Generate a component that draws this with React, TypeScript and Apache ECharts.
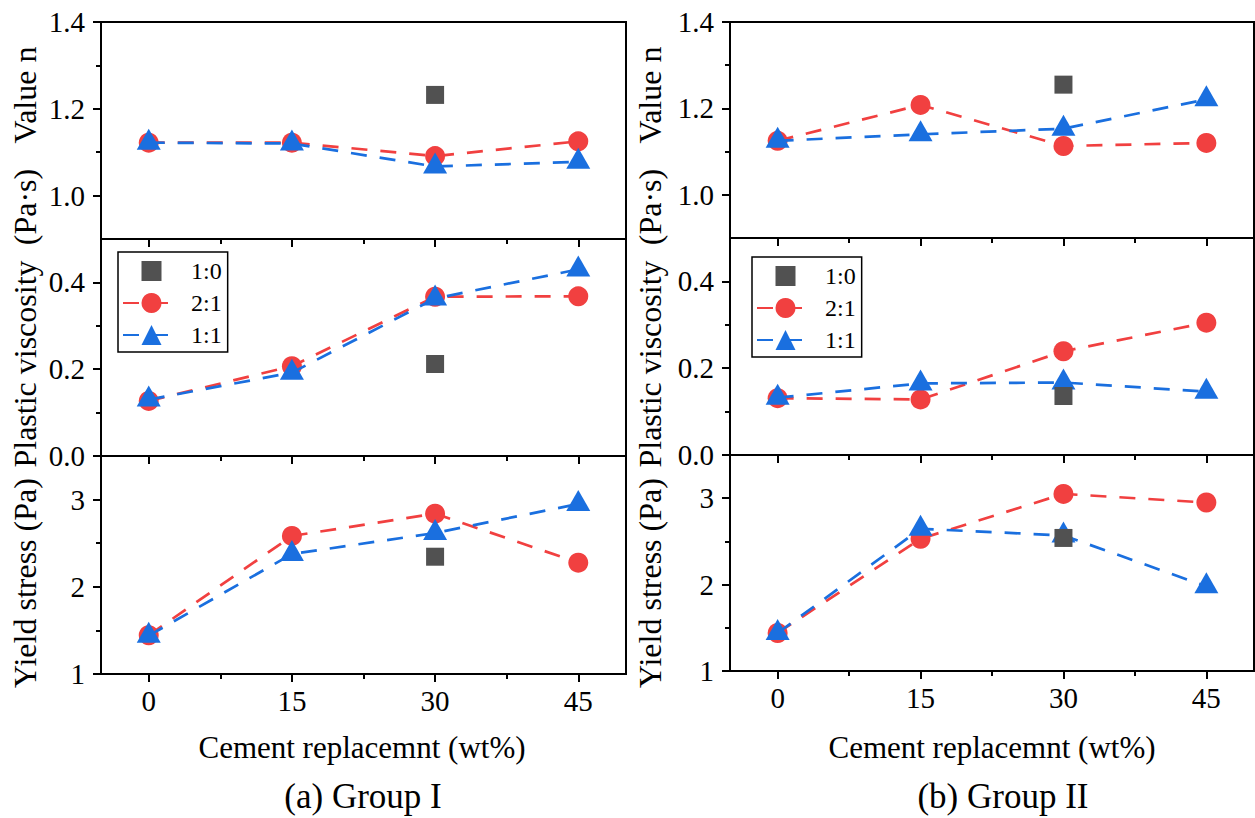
import React, { useEffect, useRef } from "react";
import * as echarts from "echarts";

// ---------- data ----------
const xValues = [0, 15, 30, 45];
const xMajorTicks = [0, 15, 30, 45];
const xMinorTicks = [7.5, 22.5, 37.5];
const seriesNames = ["1:0", "2:1", "1:1"];

// Group I
const g1N_10 = [null, null, 1.232, null];
const g1N_21 = [1.122, 1.122, 1.091, 1.125];
const g1N_11 = [1.122, 1.12, 1.067, 1.078];
const g1PV_10 = [null, null, 0.212, null];
const g1PV_21 = [0.127, 0.207, 0.367, 0.368];
const g1PV_11 = [0.13, 0.192, 0.363, 0.43];
const g1YS_10 = [null, null, 2.345, null];
const g1YS_21 = [1.444, 2.583, 2.839, 2.277];
const g1YS_11 = [1.44, 2.376, 2.617, 2.95];

// Group II
const g2N_10 = [null, null, 1.255, null];
const g2N_21 = [1.125, 1.208, 1.113, 1.12];
const g2N_11 = [1.125, 1.14, 1.153, 1.221];
const g2PV_10 = [null, null, 0.136, null];
const g2PV_21 = [0.131, 0.128, 0.239, 0.305];
const g2PV_11 = [0.132, 0.165, 0.167, 0.146];
const g2YS_10 = [null, null, 2.54, null];
const g2YS_21 = [1.44, 2.53, 3.05, 2.95];
const g2YS_11 = [1.44, 2.646, 2.569, 1.98];

// y-axis ticks
const nMajor = [1.0, 1.2, 1.4];
const nMinor = [1.1, 1.3];
const pvMajor = [0.0, 0.2, 0.4];
const pvMinor = [0.1, 0.3];
const ysMajor = [1, 2, 3];
const ysMinor = [1.5, 2.5];

const yTitles = ["Value n", "Plastic viscosity", "Yield stress (Pa)"];
const yUnitPV = "(Pa·s)";
const xTitle = "Cement replacemnt (wt%)";
const groupTitles = ["(a) Group I", "(b) Group II"];

// ---------- styles ----------
const FONT = "'Liberation Serif', 'Times New Roman', serif";
const RED = "#F14040";
const BLUE = "#1A6FDF";
const GRAY = "#515151";

const panels = [
  { min: 0.9, max: 1.4, major: nMajor, minor: nMinor, dec: 1 },
  { min: 0, max: 0.5, major: pvMajor, minor: pvMinor, dec: 1 },
  { min: 1, max: 3.5, major: ysMajor, minor: ysMinor, dec: 0 },
];

const columnData = [
  [
    [g1N_10, g1N_21, g1N_11],
    [g1PV_10, g1PV_21, g1PV_11],
    [g1YS_10, g1YS_21, g1YS_11],
  ],
  [
    [g2N_10, g2N_21, g2N_11],
    [g2PV_10, g2PV_21, g2PV_11],
    [g2YS_10, g2YS_21, g2YS_11],
  ],
];

const colLayout = [
  { left: 101, width: 525, rows: [[22, 217], [239, 217], [456, 218]], center: 362, legend: [118, 252], titleX: 25, groupX: 363 },
  { left: 730, width: 524, rows: [[22, 216], [238, 217], [455, 216]], center: 992, legend: [752, 257], titleX: 650, groupX: 1003 },
];

function buildOption() {
  const grid: any[] = [];
  const xAxis: any[] = [];
  const yAxis: any[] = [];
  const series: any[] = [];
  const graphic: any[] = [];

  colLayout.forEach((col, c) => {
    col.rows.forEach(([top, height], r) => {
      const g = c * 3 + r;
      const p = panels[r];
      grid.push({
        left: col.left,
        top,
        width: col.width,
        height,
        show: true,
        borderColor: "#000",
        borderWidth: 2,
        backgroundColor: "transparent",
      });
      const isBottom = r === 2;
      xAxis.push({
        gridIndex: g,
        type: "value",
        min: -5,
        max: 50,
        position: "bottom",
        axisLine: { show: true, onZero: false, lineStyle: { color: "#000", width: 2 } },
        axisTick: { show: true, customValues: xMajorTicks, length: 8, lineStyle: { color: "#000", width: 2 } },
        axisLabel: {
          show: isBottom,
          customValues: xMajorTicks,
          fontSize: 29,
          fontFamily: FONT,
          color: "#000",
          margin: 12,
        },
        splitLine: { show: false },
      });
      xAxis.push({
        gridIndex: g,
        type: "value",
        min: -5,
        max: 50,
        position: "bottom",
        axisLine: { show: false, onZero: false },
        axisTick: { show: true, customValues: xMinorTicks, length: 5, lineStyle: { color: "#000", width: 2 } },
        axisLabel: { show: false },
        splitLine: { show: false },
      });
      yAxis.push({
        gridIndex: g,
        type: "value",
        min: p.min,
        max: p.max,
        position: "left",
        axisLine: { show: true, onZero: false, lineStyle: { color: "#000", width: 2 } },
        axisTick: { show: true, customValues: p.major, length: 8, lineStyle: { color: "#000", width: 2 } },
        axisLabel: {
          show: true,
          customValues: p.major,
          formatter: (v: number) => Number(v).toFixed(p.dec),
          fontSize: 29,
          fontFamily: FONT,
          color: "#000",
          margin: 16,
        },
        splitLine: { show: false },
      });
      yAxis.push({
        gridIndex: g,
        type: "value",
        min: p.min,
        max: p.max,
        position: "left",
        axisLine: { show: false, onZero: false },
        axisTick: { show: true, customValues: p.minor, length: 5, lineStyle: { color: "#000", width: 2 } },
        axisLabel: { show: false },
        splitLine: { show: false },
      });

      const sets = columnData[c][r];
      const styles = [
        { color: GRAY, symbol: "rect", size: 18, offset: [0, 0], z: 4, line: false },
        { color: RED, symbol: "circle", size: 20, offset: [0, 0], z: 2, line: true },
        { color: BLUE, symbol: "triangle", size: [24, 21], offset: [0, -3.5], z: 3, line: true },
      ];
      sets.forEach((arr, k) => {
        const s = styles[k];
        series.push({
          name: seriesNames[k],
          type: "line",
          xAxisIndex: 2 * g,
          yAxisIndex: 2 * g,
          data: xValues.map((x, i) => [x, arr[i] == null ? "-" : arr[i]]),
          symbol: s.symbol,
          symbolSize: s.size,
          symbolOffset: s.offset,
          showSymbol: true,
          z: s.z,
          silent: true,
          emphasis: { disabled: true },
          itemStyle: { color: s.color, borderWidth: 0 },
          lineStyle: s.line
            ? { color: s.color, width: 2.7, type: [16, 13] }
            : { color: s.color, width: 0, opacity: 0 },
        });
      });
    });

    const tx = col.titleX;
    const tStyle = (text: string, size: number) => ({
      text,
      font: `${size}px ${FONT}`,
      fill: "#000",
      align: "center",
      verticalAlign: "middle",
    });
    graphic.push(
      { type: "text", x: tx, y: 95, rotation: Math.PI / 2, style: tStyle(yTitles[0], 32) },
      { type: "text", x: tx, y: 207, rotation: Math.PI / 2, style: tStyle(yUnitPV, 32) },
      { type: "text", x: tx, y: 364, rotation: Math.PI / 2, style: tStyle(yTitles[1], 32) },
      { type: "text", x: tx, y: 583, rotation: Math.PI / 2, style: tStyle(yTitles[2], 32) },
      { type: "text", x: col.center, y: 747, style: tStyle(xTitle, 31) },
      { type: "text", x: col.groupX, y: 796, style: tStyle(groupTitles[c], 35) }
    );
  });

  const legendBase = {
    orient: "vertical",
    data: seriesNames,
    itemWidth: 57,
    itemHeight: 25,
    itemGap: 8,
    padding: [7, 6, 5, 4],
    borderColor: "#000",
    borderWidth: 1.5,
    backgroundColor: "#fff",
    selectedMode: false,
    textStyle: { fontSize: 24, fontFamily: FONT, color: "#000", padding: [0, 0, 0, 6] },
  };

  const legend = colLayout.map((col) => ({ ...legendBase, left: col.legend[0], top: col.legend[1] }));

  return {
    animation: false,
    backgroundColor: "#fff",
    grid,
    xAxis,
    yAxis,
    series,
    legend,
    graphic,
  };
}

export default function App() {
  const ref = useRef<HTMLDivElement>(null);
  useEffect(() => {
    document.body.style.margin = "0";
    if (!ref.current) return;
    const chart = echarts.init(ref.current, undefined, { renderer: "svg" });
    chart.setOption(buildOption() as any);
    return () => chart.dispose();
  }, []);
  return <div ref={ref} style={{ width: 1255, height: 818 }} />;
}
